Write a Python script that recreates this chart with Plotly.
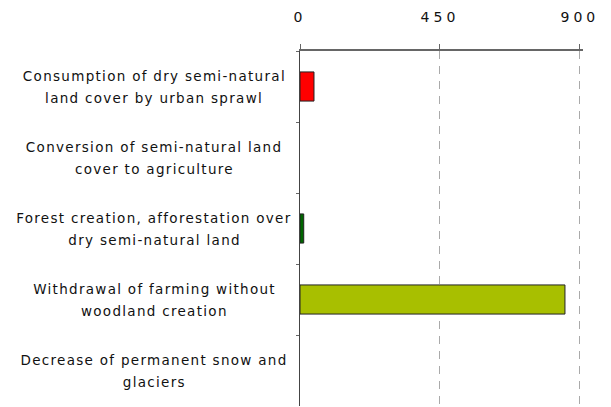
import plotly.graph_objects as go

# Land take / land cover flows
categories = [
    "Consumption of dry semi-natural<br>land cover by urban sprawl",
    "Conversion of semi-natural land<br>cover to agriculture",
    "Forest creation, afforestation over<br>dry semi-natural land",
    "Withdrawal of farming without<br>woodland creation",
    "Decrease of permanent snow and<br>glaciers",
]
values = [45, 0, 12, 852, 0]
bar_colors = ["#ff0000", "#ff0000", "#006600", "#a8bf00", "#a8bf00"]
x_ticks = [0, 450, 900]

FONT = "Verdana, DejaVu Sans, sans-serif"

fig = go.Figure(go.Bar(
    y=categories, x=values, orientation="h",
    marker=dict(color=bar_colors,
                line=dict(color="#222222", width=[1 if v > 0 else 0 for v in values])),
    width=0.41,
))

# y labels: one annotation per line so lines are centred and spaced like the original
annotations = []
for cat in categories:
    lines = cat.split("<br>")
    n = len(lines)
    for i, line in enumerate(lines):
        annotations.append(dict(
            x=0, xref="paper", y=cat, yref="y",
            text=line, showarrow=False,
            xanchor="center", yanchor="middle",
            xshift=-146, yshift=((n - 1) / 2 - i) * 22,
            font=dict(family=FONT, size=13.5, color="#111111"),
        ))

fig.update_layout(
    width=611, height=407,
    margin=dict(l=300, r=28, t=51, b=1, autoexpand=False),
    plot_bgcolor="white", paper_bgcolor="white",
    showlegend=False,
    annotations=annotations,
    font=dict(family=FONT, size=14, color="#111111"),
)
fig.update_xaxes(
    side="top", range=[0, 910], tickvals=x_ticks,
    showline=True, linecolor="#666666", linewidth=2,
    ticks="outside", ticklen=5, tickcolor="#666666",
    ticklabelstandoff=16, automargin=False,
    showgrid=True, gridcolor="#aaaaaa", griddash="8px,7px", gridwidth=1,
    zeroline=False,
    tickfont=dict(family=FONT, size=14, color="#111111"),
)
fig.update_yaxes(
    categoryorder="array", categoryarray=categories,
    autorange="reversed", automargin=False,
    showticklabels=False,
    showline=True, linecolor="#444444", linewidth=1,
    ticks="outside", ticklen=3, tickcolor="#666666", tickson="boundaries",
    showgrid=False,
)

# no page margin, and the wide letter spacing of the original text
spacing_js = """
document.body.style.margin = '0';
var s = document.createElement('style');
s.textContent = '.annotation-text{letter-spacing:1.3px} .xtick text{letter-spacing:4px}';
document.head.appendChild(s);
"""

fig.write_html("out.html", post_script=spacing_js, config={"displayModeBar": False})
